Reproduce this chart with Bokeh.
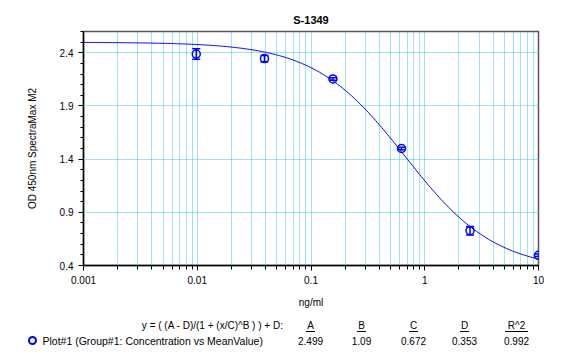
import numpy as np
from bokeh.plotting import figure
from bokeh.layouts import column
from bokeh.models import ColumnDataSource, FixedTicker, Whisker, Range1d
from bokeh.core.properties import value
from bokeh.embed import file_html
from bokeh.resources import INLINE

# ---- data ----
conc = [0.0098, 0.039, 0.156, 0.625, 2.5, 10.0]
mean_od = [2.388, 2.345, 2.154, 1.500, 0.727, 0.496]
err_od = [0.050, 0.030, 0.012, 0.012, 0.040, 0.012]

fit_names = ["A", "B", "C", "D", "R^2"]
fit_values = [2.499, 1.09, 0.672, 0.353, 0.992]
fit_labels = ["2.499", "1.09", "0.672", "0.353", "0.992"]

x_ticks = [0.001, 0.01, 0.1, 1, 10]
x_tick_labels = ["0.001", "0.01", "0.1", "1", "10"]
y_ticks = [0.4, 0.9, 1.4, 1.9, 2.4]

title_text = "S-1349"
x_label = "ng/ml"
y_label = "OD 450nm SpectraMax M2"
eq_text = "y = ( (A - D)/(1 + (x/C)^B ) ) + D:"
legend_text = "Plot#1 (Group#1: Concentration vs MeanValue)"

FONT = "Liberation Sans"
BLUE = "#0000ff"
GRID = "#3cc4ec"

A, B, C, D = fit_values[:4]
xc = np.logspace(-3, 1, 300)
yc = (A - D) / (1 + (xc / C) ** B) + D

TOP_H = 310
p = figure(x_axis_type="log", x_range=(0.001, 10), y_range=(0.4, 2.6),
           width=567, height=TOP_H,
           min_border_left=83, min_border_right=29, min_border_top=31, min_border_bottom=44,
           output_backend="svg", toolbar_location=None)
p.outline_line_color = "#555555"
p.outline_line_width = 1.5

p.title.text = title_text
p.title.align = "center"
p.title.text_font = FONT
p.title.text_font_size = "11px"
p.title.text_font_style = "bold"
p.title.text_color = "black"
p.title.standoff = 12

minor_x = [m * 10.0 ** e for e in range(-3, 1) for m in range(2, 10)]
p.xaxis.ticker = FixedTicker(ticks=x_ticks, minor_ticks=minor_x)
p.xaxis.major_label_overrides = {t: l for t, l in zip(x_ticks, x_tick_labels)}
minor_y = [round(0.4 + 0.1 * i, 2) for i in range(0, 23)]
p.yaxis.ticker = FixedTicker(ticks=y_ticks, minor_ticks=minor_y)

for ax in (p.xaxis, p.yaxis):
    ax.axis_line_color = "black"
    ax.axis_line_width = 1.5
    ax.major_tick_line_color = "black"
    ax.minor_tick_line_color = "black"
    ax.major_tick_in = 0
    ax.major_tick_out = 5
    ax.minor_tick_in = 0
    ax.minor_tick_out = 3
    ax.major_label_text_font = FONT
    ax.major_label_text_font_size = "10px"
    ax.major_label_text_color = "black"
    ax.axis_label_text_font = FONT
    ax.axis_label_text_font_size = "10px"
    ax.axis_label_text_font_style = "normal"
    ax.axis_label_text_color = "black"
p.xaxis.minor_tick_out = 4
p.xaxis.axis_label = x_label
p.xaxis.axis_label_standoff = 10
p.yaxis.axis_label = y_label
p.yaxis.axis_label_standoff = 19

p.xgrid.grid_line_color = GRID
p.xgrid.grid_line_dash = "1 1"
p.xgrid.minor_grid_line_color = GRID
p.xgrid.minor_grid_line_dash = "1 1"
p.ygrid.grid_line_color = GRID
p.ygrid.grid_line_dash = "1 1"

p.line(xc, yc, line_color=BLUE, line_width=1)

src = ColumnDataSource(dict(x=conc, y=mean_od,
                            lo=[m - e for m, e in zip(mean_od, err_od)],
                            hi=[m + e for m, e in zip(mean_od, err_od)]))
wh = Whisker(source=src, base="x", lower="lo", upper="hi", line_color=BLUE, line_width=1.5)
for h in (wh.upper_head, wh.lower_head):
    h.line_color = BLUE
    h.size = 8
    h.line_width = 1.5
p.add_layout(wh)
p.scatter("x", "y", source=src, size=8, fill_color=None, line_color=BLUE, line_width=1.5)

# ---- bottom table figure (pixel coordinates, y downward from top of this panel) ----
BOT_H = 356 - TOP_H
q = figure(width=567, height=BOT_H, x_range=Range1d(0, 567), y_range=Range1d(BOT_H, 0),
           min_border=0, x_axis_location=None, y_axis_location=None,
           output_backend="svg", toolbar_location=None)
q.outline_line_color = None
q.grid.visible = False
if "frame_align" in q.properties():
    q.frame_align = False

row1 = 325 - TOP_H
row2 = 340 - TOP_H
col_x = [310, 361, 413, 464, 516]

txt = dict(text_font=value(FONT), text_font_size="10px", text_color="black",
           text_baseline="middle")
q.text(x=[283], y=[row1], text=[eq_text], text_align="right", **txt)
q.text(x=col_x, y=[row1] * 5, text=fit_names, text_align="center", **txt)
half = [3.5 * len(n) + 1 for n in fit_names]
q.segment(x0=[c - h for c, h in zip(col_x, half)], x1=[c + h for c, h in zip(col_x, half)],
          y0=[row1 + 6] * 5, y1=[row1 + 6] * 5, line_color="black", line_width=1)
q.text(x=col_x, y=[row2] * 5, text=fit_labels, text_align="center", **txt)
q.scatter(x=[32], y=[row2], size=7, fill_color=None, line_color=BLUE, line_width=2)
q.text(x=[42], y=[row2], text=[legend_text], text_align="left",
       **{**txt, "text_font_size": "10.5px"})

layout = column(p, q, spacing=0)
open("out.html", "w").write(file_html(layout, INLINE))
